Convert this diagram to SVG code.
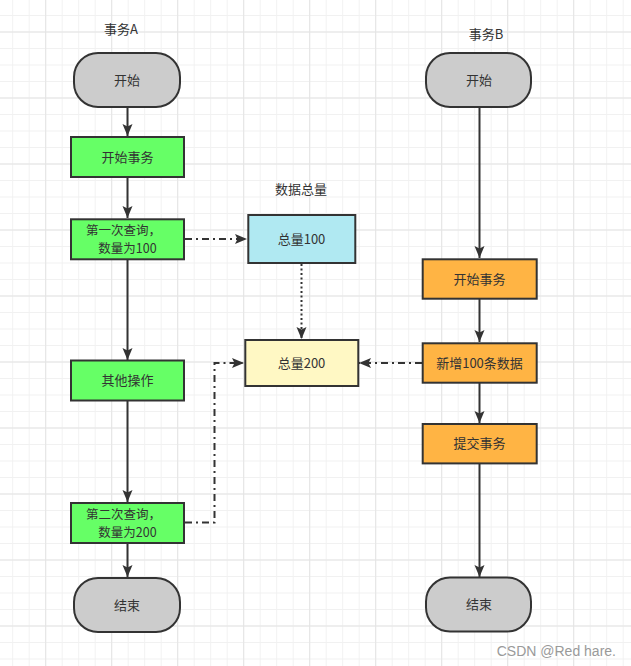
<svg xmlns="http://www.w3.org/2000/svg" width="631" height="666" viewBox="0 0 631 666">
<defs>
<pattern id="minor" patternUnits="userSpaceOnUse" x="12.2" y="15" width="16.5" height="16.5">
<rect x="0" y="0" width="1" height="16.5" fill="#f1f1f1"/>
<rect x="0" y="0" width="16.5" height="1" fill="#f1f1f1"/>
</pattern>
<pattern id="major" patternUnits="userSpaceOnUse" x="45.2" y="31.5" width="66" height="66">
<rect x="0" y="0" width="1" height="66" fill="#e4e4e4"/>
<rect x="0" y="0" width="66" height="1" fill="#e4e4e4"/>
</pattern>
<marker id="arr" markerUnits="userSpaceOnUse" markerWidth="14" markerHeight="12" refX="12" refY="5" orient="auto" viewBox="0 0 14 12">
<path d="M0,0 L12,5 L0,10 L2.5,5 z" fill="#333333"/>
</marker>
</defs>
<style>
.t{font-family:"Noto Sans CJK SC","Microsoft YaHei","Liberation Sans",sans-serif;font-size:13px;fill:#333333;text-anchor:middle}
.t2{font-size:12.5px}
.n{stroke:#333333;stroke-width:2}
.term{fill:#cccccc}
.g{fill:#66ff66}
.o{fill:#ffb444}
.e{fill:none;stroke:#333333;stroke-width:2}
.dd{stroke-dasharray:7 4 2 4}
.dot{stroke-dasharray:2 2.5}
</style>
<rect width="631" height="666" fill="#ffffff"/>
<rect width="631" height="666" fill="url(#minor)"/>
<rect width="631" height="666" fill="url(#major)"/>

<g id="connectors">
<path class="e" d="M127.5,107 L127.5,136" marker-end="url(#arr)"/>
<path class="e" d="M127.5,177 L127.5,218" marker-end="url(#arr)"/>
<path class="e" d="M127.5,259 L127.5,360" marker-end="url(#arr)"/>
<path class="e" d="M127.5,400 L127.5,502" marker-end="url(#arr)"/>
<path class="e" d="M127.5,543 L127.5,577" marker-end="url(#arr)"/>
<path class="e" d="M479.5,107 L479.5,258" marker-end="url(#arr)"/>
<path class="e" d="M479.5,299 L479.5,342" marker-end="url(#arr)"/>
<path class="e" d="M479.5,383 L479.5,423" marker-end="url(#arr)"/>
<path class="e" d="M479.5,464 L479.5,577" marker-end="url(#arr)"/>
<path class="e dd" d="M185,239 L247,239" marker-end="url(#arr)"/>
<path class="e dot" d="M301.5,264 L301.5,339" marker-end="url(#arr)"/>
<path class="e dd" d="M422,363 L359,363" marker-end="url(#arr)"/>
<path class="e dd" d="M185,522.5 L214.5,522.5 L214.5,363 L244,363" marker-end="url(#arr)"/>
</g>

<g id="labelA"><text class="t" x="121" y="34">事务A</text></g>
<g id="labelB"><text class="t" x="486" y="39">事务B</text></g>
<g id="labelData"><text class="t" x="301" y="194">数据总量</text></g>

<g id="a_start"><rect class="n term" x="74" y="53" width="106" height="54" rx="24" ry="24"/><text class="t" x="127" y="84.5">开始</text></g>
<g id="a_begin"><rect class="n g" x="71" y="137" width="113" height="40"/><text class="t" x="127.5" y="161.5">开始事务</text></g>
<g id="a_q1"><rect class="n g" x="71" y="219.3" width="113" height="40"/><text class="t t2" x="123.5" y="235.2">第一次查询，</text><text class="t t2" x="127.5" y="253.4">数量为100</text></g>
<g id="a_other"><rect class="n g" x="71" y="360.5" width="113" height="40"/><text class="t" x="127.5" y="385">其他操作</text></g>
<g id="a_q2"><rect class="n g" x="71" y="503" width="113" height="40"/><text class="t t2" x="123.5" y="518.7">第二次查询，</text><text class="t t2" x="127.5" y="536.9">数量为200</text></g>
<g id="a_end"><rect class="n term" x="74" y="578" width="106" height="54" rx="24" ry="24"/><text class="t" x="127" y="609.5">结束</text></g>

<g id="total100"><rect class="n" fill="#b0e9f2" x="248.3" y="215" width="107" height="48"/><text class="t" x="301.5" y="243.5">总量100</text></g>
<g id="total200"><rect class="n" fill="#fff8c4" x="245.3" y="340" width="113" height="46"/><text class="t" x="301.5" y="367.5">总量200</text></g>

<g id="b_start"><rect class="n term" x="426" y="53" width="105" height="54" rx="24" ry="24"/><text class="t" x="479" y="84.5">开始</text></g>
<g id="b_begin"><rect class="n o" x="422.7" y="259.3" width="114" height="39.4"/><text class="t" x="479.5" y="283.5">开始事务</text></g>
<g id="b_insert"><rect class="n o" x="422.7" y="343.3" width="114" height="39.4"/><text class="t" x="479.5" y="367.5">新增100条数据</text></g>
<g id="b_commit"><rect class="n o" x="422.7" y="424" width="114" height="39.4"/><text class="t" x="479.5" y="448">提交事务</text></g>
<g id="b_end"><rect class="n term" x="426" y="577.5" width="105" height="54" rx="24" ry="24"/><text class="t" x="479" y="609">结束</text></g>

<text x="616" y="656" font-family="'Liberation Sans',Arial,sans-serif" font-size="14px" fill="#9a9a9a" text-anchor="end">CSDN @Red hare.</text>
</svg>
